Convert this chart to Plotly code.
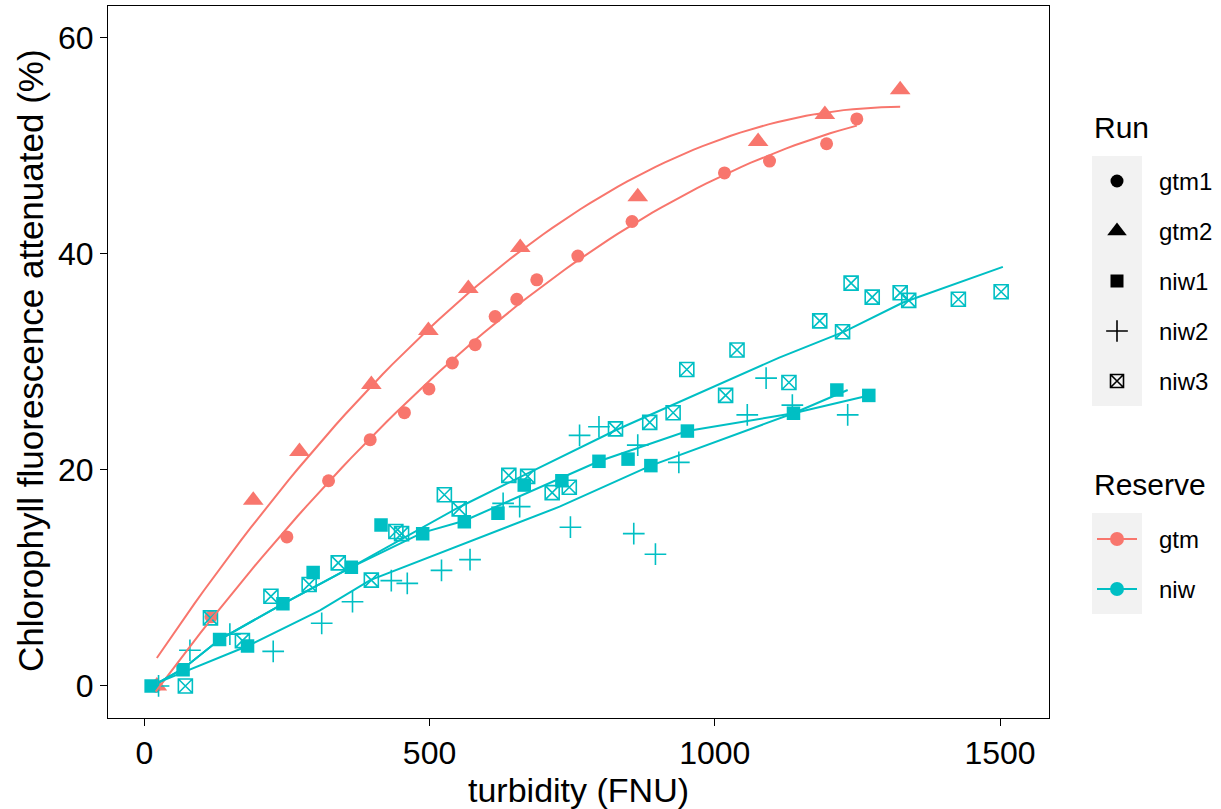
import numpy as np
import plotly.graph_objects as go

SALMON = "#F8766D"
CYAN = "#00BFC4"
FONT = "Liberation Sans, Arial, sans-serif"

# ---------------- data ----------------
gtm1_x = [20, 117, 250, 323, 396, 456, 499, 540, 580, 615, 653, 688, 760, 855, 1017, 1096, 1196, 1249]
gtm1_y = [0, 6.4, 13.8, 19.0, 22.8, 25.3, 27.5, 29.9, 31.6, 34.2, 35.8, 37.6, 39.8, 43.0, 47.5, 48.6, 50.2, 52.5]

gtm2_x = [22, 191, 272, 398, 498, 568, 659, 865, 1076, 1193, 1325]
gtm2_y = [0, 17.2, 21.7, 27.9, 32.9, 36.8, 40.6, 45.3, 50.4, 52.9, 55.2]

niw1_x = [12, 68, 132, 181, 243, 296, 363, 415, 488, 561, 620, 666, 732, 797, 848, 888, 952, 1138, 1214, 1270]
niw1_y = [0, 1.5, 4.3, 3.7, 7.6, 10.5, 11.0, 14.9, 14.1, 15.2, 16.0, 18.6, 19.0, 20.8, 21.0, 20.4, 23.6, 25.25, 27.4, 26.9]

niw2_x = [25, 80, 150, 226, 311, 365, 433, 461, 521, 571, 629, 658, 747, 763, 797, 858, 865, 896, 937, 1057, 1090, 1136, 1233]
niw2_y = [0, 3.3, 4.8, 3.2, 5.8, 7.8, 9.75, 9.5, 10.7, 11.7, 16.9, 16.6, 14.7, 23.2, 24.0, 14.1, 22.3, 12.2, 20.7, 25.1, 28.5, 26.0, 25.1]

niw3_x = [72, 116, 172, 222, 289, 340, 398, 441, 451, 526, 552, 639, 672, 715, 745, 826, 886, 927, 951, 1019,
          1039, 1130, 1184, 1224, 1239, 1276, 1325, 1340, 1427, 1502]
niw3_y = [0, 6.3, 4.2, 8.3, 9.4, 11.4, 9.8, 14.3, 14.1, 17.7, 16.4, 19.5, 19.4, 17.9, 18.4, 23.8, 24.4, 25.3, 29.3, 26.9,
          31.1, 28.1, 33.8, 32.8, 37.3, 36.0, 36.4, 35.7, 35.8, 36.5]

# fitted curves of the niw runs
niw1_fit_x = [25, 68, 132, 243, 363, 488, 561, 797, 952, 1138, 1270]
niw1_fit_y = [0.3, 1.6, 4.3, 7.6, 11.0, 14.2, 15.3, 20.8, 23.6, 25.25, 26.9]
niw2_fit_x = [28, 181, 308, 396, 728, 888, 1138, 1233]
niw2_fit_y = [0.4, 3.7, 7.0, 9.8, 16.6, 20.4, 25.25, 27.4]
niw3_fit_x = [25, 68, 132, 243, 363, 550, 638, 827, 1113, 1227, 1330, 1505]
niw3_fit_y = [0.3, 1.6, 4.3, 7.6, 11.0, 16.5, 18.8, 23.7, 30.4, 32.8, 35.5, 38.8]

x_ticks = [0, 500, 1000, 1500]
y_ticks = [0, 20, 40, 60]
run_labels = ["gtm1", "gtm2", "niw1", "niw2", "niw3"]
reserve_labels = ["gtm", "niw"]

# ---------------- figure ----------------
W, H = 1221, 809
fig = go.Figure()

def pts(x, y, symbol, size, color, lw=0):
    if "open" in symbol:
        marker = dict(symbol=symbol, size=size, color=color, line=dict(color=color, width=lw))
    else:
        marker = dict(symbol=symbol, size=size, color=color, line=dict(width=0))
    fig.add_trace(go.Scatter(x=x, y=y, mode="markers", marker=marker,
                             showlegend=False, hoverinfo="skip", xaxis="x", yaxis="y"))

pts(gtm1_x, gtm1_y, "circle", 13, SALMON)
pts(gtm2_x, gtm2_y, "triangle-up", 18, SALMON)
pts(niw1_x, niw1_y, "square", 13.5, CYAN)
pts(niw2_x, niw2_y, "cross-thin-open", 15.5, CYAN, 1.6)
pts(niw3_x, niw3_y, "square-x-open", 14, CYAN, 1.6)

def line(x, y, color):
    fig.add_trace(go.Scatter(x=x, y=y, mode="lines", line=dict(color=color, width=2),
                             showlegend=False, hoverinfo="skip", xaxis="x", yaxis="y"))

for gx, gy in [(gtm1_x, gtm1_y), (gtm2_x, gtm2_y)]:
    c = np.polyfit(gx, gy, 2)
    xs = np.linspace(min(gx), max(gx), 80)
    line(xs, np.polyval(c, xs), SALMON)

line(niw1_fit_x, niw1_fit_y, CYAN)
line(niw2_fit_x, niw2_fit_y, CYAN)
line(niw3_fit_x, niw3_fit_y, CYAN)

# ---------------- legend (drawn on a pixel overlay axis) ----------------
KX = 1117
run_y = [181 + 50 * i for i in range(5)]
run_sym = [("circle", 13, 0), ("triangle-up", 17, 0), ("square", 13, 0),
           ("cross-thin-open", 15.5, 1.6), ("square-x-open", 13, 1.6)]
for (sym, sz, lw), yy in zip(run_sym, run_y):
    m = dict(symbol=sym, size=sz, color="black", line=dict(color="black", width=lw))
    fig.add_trace(go.Scatter(x=[KX], y=[yy], mode="markers", marker=m, showlegend=False,
                             hoverinfo="skip", xaxis="x2", yaxis="y2"))
res_y = [539, 589]
for col, yy in zip([SALMON, CYAN], res_y):
    fig.add_trace(go.Scatter(x=[KX - 20, KX + 20], y=[yy, yy], mode="lines",
                             line=dict(color=col, width=2), showlegend=False,
                             hoverinfo="skip", xaxis="x2", yaxis="y2"))
    fig.add_trace(go.Scatter(x=[KX], y=[yy], mode="markers",
                             marker=dict(symbol="circle", size=14, color=col),
                             showlegend=False, hoverinfo="skip", xaxis="x2", yaxis="y2"))

shapes = [
    dict(type="rect", xref="x2", yref="y2", x0=1092, x1=1142, y0=156, y1=406,
         fillcolor="#F2F2F2", line=dict(width=0), layer="below"),
    dict(type="rect", xref="x2", yref="y2", x0=1092, x1=1142, y0=513, y1=614,
         fillcolor="#F2F2F2", line=dict(width=0), layer="below"),
]

ann = []
ann.append(dict(text="Run", x=1092, y=127, xref="x2", yref="y2", xanchor="left", yanchor="middle",
                showarrow=False, font=dict(family=FONT, size=30, color="black")))
ann.append(dict(text="Reserve", x=1092, y=484, xref="x2", yref="y2", xanchor="left", yanchor="middle",
                showarrow=False, font=dict(family=FONT, size=30, color="black")))
for lab, yy in zip(run_labels, run_y):
    ann.append(dict(text=lab, x=1157, y=yy, xref="x2", yref="y2", xanchor="left", yanchor="middle",
                    showarrow=False, font=dict(family=FONT, size=24, color="black")))
for lab, yy in zip(reserve_labels, res_y):
    ann.append(dict(text=lab, x=1157, y=yy, xref="x2", yref="y2", xanchor="left", yanchor="middle",
                    showarrow=False, font=dict(family=FONT, size=24, color="black")))
ann.append(dict(text="turbidity (FNU)", x=578, y=790, xref="x2", yref="y2", xanchor="center",
                yanchor="middle", showarrow=False, font=dict(family=FONT, size=34, color="black")))
ann.append(dict(text="Chlorophyll fluorescence attenuated (%)", x=30, y=361, xref="x2", yref="y2",
                xanchor="center", yanchor="middle", textangle=-90, showarrow=False,
                font=dict(family=FONT, size=35, color="black")))

L, R, T, B = 108, 1048.5, 5.5, 717.5
axis_common = dict(showgrid=False, zeroline=False, showline=True, mirror=True, linecolor="black",
                   linewidth=1.2, ticks="outside", ticklen=7, tickwidth=1.2, tickcolor="black",
                   tickfont=dict(family=FONT, size=32, color="black"), automargin=False)
fig.update_layout(
    width=W, height=H, autosize=False,
    margin=dict(l=0, r=0, t=0, b=0),
    paper_bgcolor="white", plot_bgcolor="rgba(0,0,0,0)",
    xaxis=dict(domain=[L / W, R / W], range=[-63.6, 1585], tickmode="array", tickvals=x_ticks,
               ticktext=[str(v) for v in x_ticks], anchor="y", **axis_common),
    yaxis=dict(domain=[1 - B / H, 1 - T / H], range=[-2.92, 63.0], tickmode="array", tickvals=y_ticks,
               ticktext=[str(v) for v in y_ticks], anchor="x", **axis_common),
    xaxis2=dict(domain=[0, 1], range=[0, W], visible=False, anchor="y2", fixedrange=True),
    yaxis2=dict(domain=[0, 1], range=[H, 0], visible=False, anchor="x2", fixedrange=True),
    shapes=shapes, annotations=ann, showlegend=False,
)

fig.write_html("out.html")
